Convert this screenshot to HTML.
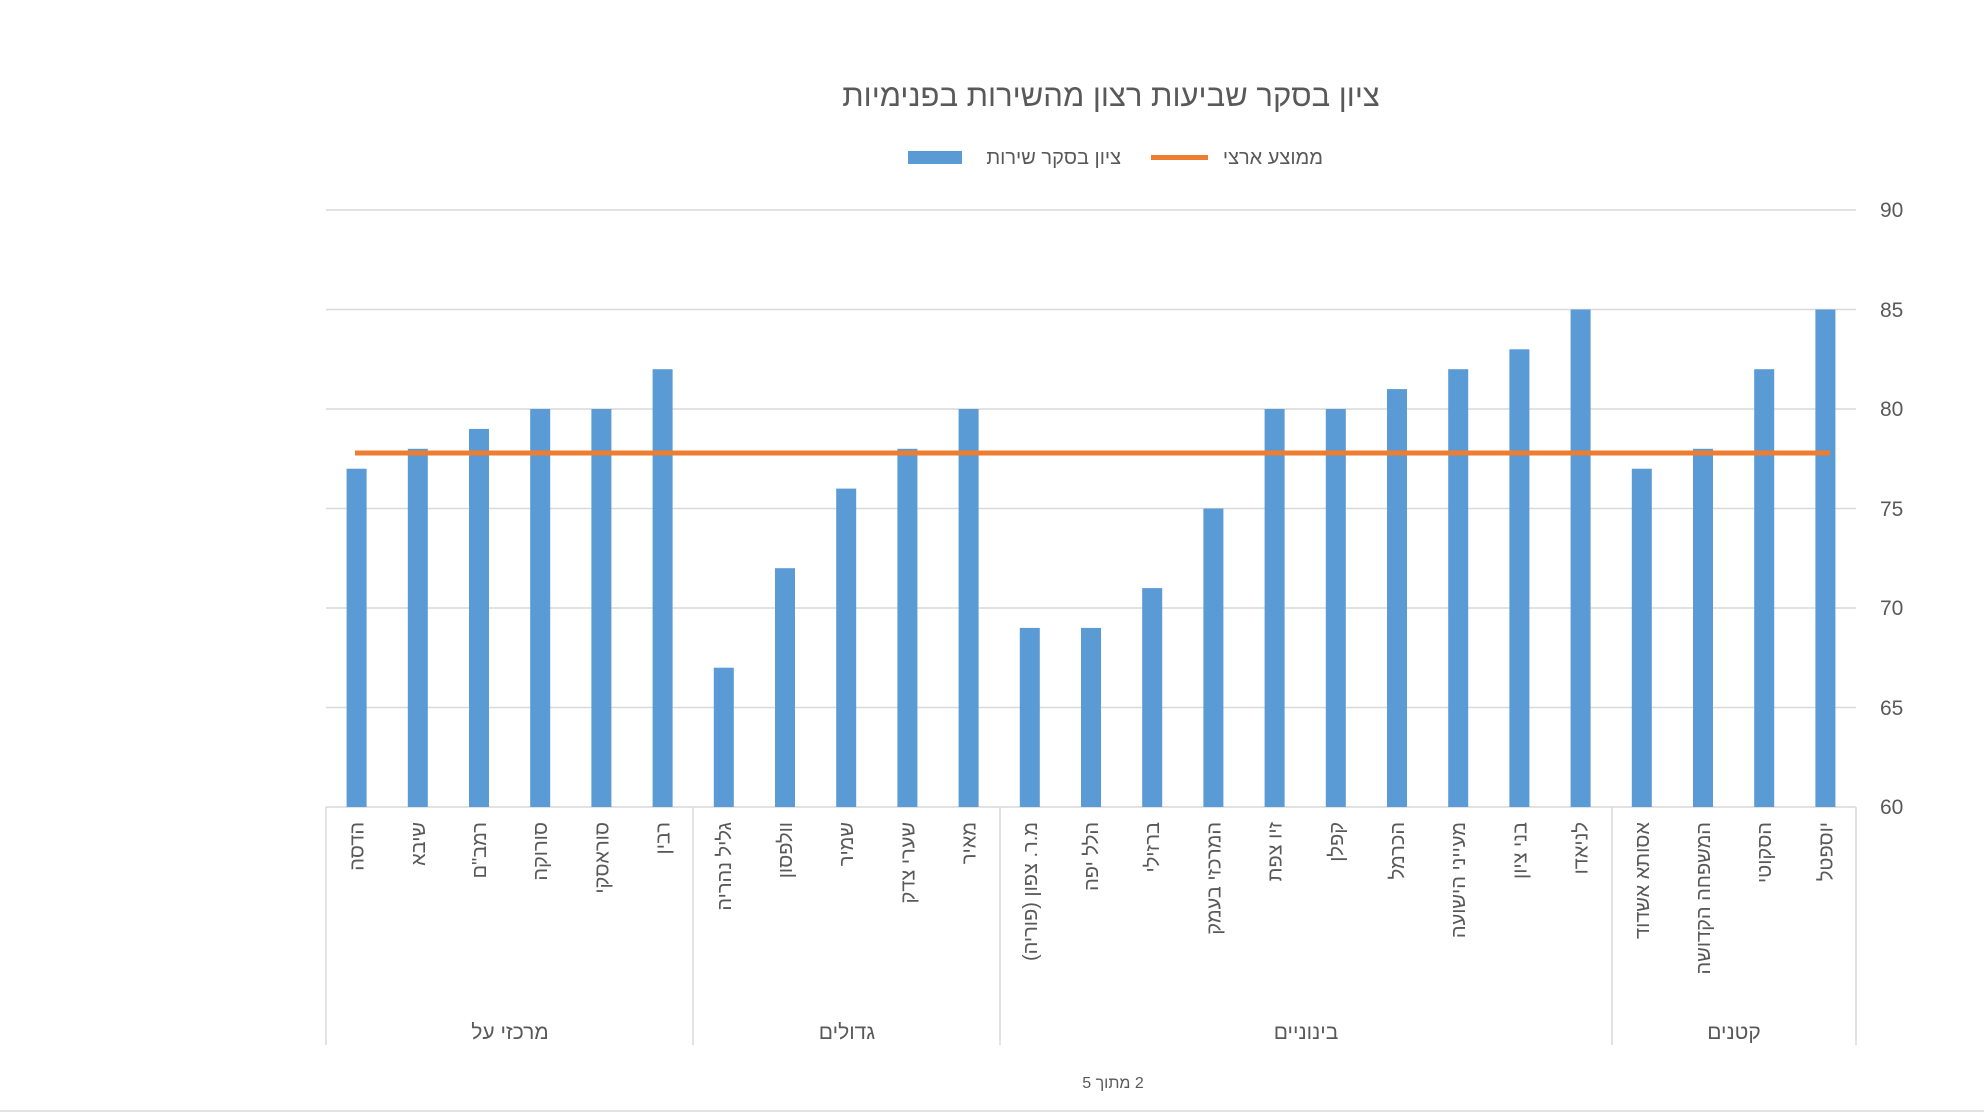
<!DOCTYPE html>
<html><head><meta charset="utf-8"><style>
body{margin:0;background:#fff;}
svg text{font-family:"Liberation Sans","DejaVu Sans",sans-serif;fill:#595959;}
</style></head><body>
<svg width="1984" height="1115" xmlns="http://www.w3.org/2000/svg">
<rect width="1984" height="1115" fill="#fff"/>
<text x="1111" y="106" font-size="31" text-anchor="middle">ציון בסקר שביעות רצון מהשירות בפנימיות</text>
<rect x="908" y="151" width="54" height="13" fill="#5b9bd5"/>
<text x="1121" y="164" font-size="20" text-anchor="end">ציון בסקר שירות</text>
<rect x="1151" y="155" width="57" height="5" fill="#ed7d31"/>
<text x="1323" y="164" font-size="20" text-anchor="end">ממוצע ארצי</text>
<g stroke="#d9d9d9" stroke-width="1.5">
<line x1="326" y1="210" x2="1856" y2="210"/>
<line x1="326" y1="309.5" x2="1856" y2="309.5"/>
<line x1="326" y1="409" x2="1856" y2="409"/>
<line x1="326" y1="508.5" x2="1856" y2="508.5"/>
<line x1="326" y1="608" x2="1856" y2="608"/>
<line x1="326" y1="707.5" x2="1856" y2="707.5"/>
<line x1="326" y1="807" x2="1856" y2="807"/>
<line x1="326" y1="807" x2="326" y2="1045"/>
<line x1="693" y1="807" x2="693" y2="1045"/>
<line x1="1000" y1="807" x2="1000" y2="1045"/>
<line x1="1612" y1="807" x2="1612" y2="1045"/>
<line x1="1856" y1="807" x2="1856" y2="1045"/>
<line x1="0" y1="1111" x2="1984" y2="1111"/>
</g>
<g font-size="21">
<text x="1880" y="217">90</text><text x="1880" y="317">85</text><text x="1880" y="416">80</text>
<text x="1880" y="516">75</text><text x="1880" y="615">70</text><text x="1880" y="715">65</text><text x="1880" y="814">60</text>
</g>
<g id="bars" fill="#5b9bd5"></g>
<line x1="355" y1="453" x2="1830" y2="453" stroke="#ed7d31" stroke-width="5"/>
<g id="labels" font-size="20"></g>
<g font-size="21" text-anchor="middle">
<text x="510" y="1039">מרכזי על</text>
<text x="847" y="1039">גדולים</text>
<text x="1306" y="1039">בינוניים</text>
<text x="1734" y="1039">קטנים</text>
</g>
<text x="1113" y="1088" font-size="16" text-anchor="middle" direction="rtl">2 מתוך 5</text>
</svg>
<script>
var v=[77,78,79,80,80,82,67,72,76,78,80,69,69,71,75,80,80,81,82,83,85,77,78,82,85];
var n=["הדסה","שיבא","רמב\"ם","סורוקה","סוראסקי","רבין","גליל נהריה","וולפסון","שמיר","שערי צדק","מאיר","מ.ר. צפון (פוריה)","הלל יפה","ברזילי","המרכזי בעמק","זיו צפת","קפלן","הכרמל","מעייני הישועה","בני ציון","לניאדו","אסותא אשדוד","המשפחה הקדושה","הסקוטי","יוספטל"];
var ns="http://www.w3.org/2000/svg",b=document.getElementById("bars"),l=document.getElementById("labels");
v.forEach(function(x,i){var c=326+61.2*(i+0.5);var y=807-(x-60)*19.9;
var r=document.createElementNS(ns,"rect");r.setAttribute("x",c-10);r.setAttribute("y",y);r.setAttribute("width",20);r.setAttribute("height",807-y);b.appendChild(r);
var t=document.createElementNS(ns,"text");t.setAttribute("transform","translate("+(c+7)+",822) rotate(-90)");t.setAttribute("text-anchor","end");t.textContent=n[i];
t.setAttribute("x",0);t.setAttribute("y",0);l.appendChild(t);
});
</script>
</body></html>
